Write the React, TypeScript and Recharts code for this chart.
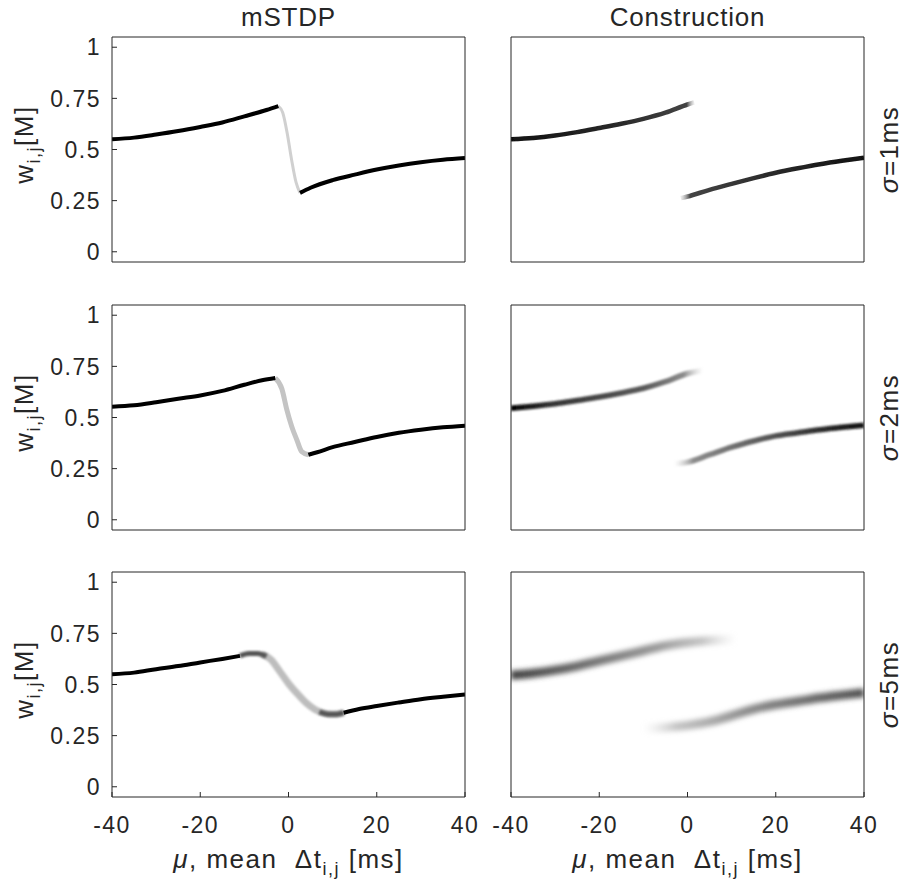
import React from 'react';
import { LineChart, Line, XAxis, YAxis } from 'recharts';

const FONT = '"Liberation Sans", Arial, Helvetica, sans-serif';
const INK = '#262626';

const xTicks = [-40, -20, 0, 20, 40];
const yTicks = [0, 0.25, 0.5, 0.75, 1];
const columnTitles = ['mSTDP', 'Construction'];
const sigmaValues = ['1', '2', '5'];

// [mean dt (ms), weight] pairs
// mSTDP, sigma = 1ms
const stdp1Rise = [[-40, 0.55], [-35, 0.558], [-30, 0.573], [-25, 0.59], [-20, 0.61], [-15, 0.632], [-10, 0.662], [-5, 0.693], [-2.3, 0.712]];
const stdp1Drop = [[-2.3, 0.712], [-1.3, 0.68], [-0.3, 0.58], [0.7, 0.45], [1.7, 0.34], [2.6, 0.288]];
const stdp1Tail = [[2.6, 0.288], [5, 0.313], [10, 0.35], [15, 0.377], [20, 0.402], [25, 0.422], [30, 0.438], [35, 0.45], [40, 0.458]];

// mSTDP, sigma = 2ms
const stdp2Rise = [[-40, 0.553], [-35, 0.56], [-30, 0.575], [-25, 0.592], [-20, 0.608], [-15, 0.63], [-10, 0.66], [-6, 0.682], [-3, 0.693]];
const stdp2Drop = [[-3, 0.693], [-1.5, 0.64], [-0.4, 0.54], [0.75, 0.455], [1.9, 0.39], [3, 0.333], [4.5, 0.318]];
const stdp2Tail = [[4.5, 0.318], [6.5, 0.33], [10, 0.355], [15, 0.38], [20, 0.405], [25, 0.425], [30, 0.44], [35, 0.452], [40, 0.46]];

// mSTDP, sigma = 5ms
const stdp5Rise = [[-40, 0.55], [-35, 0.558], [-30, 0.575], [-25, 0.59], [-20, 0.608], [-15, 0.625], [-11, 0.64]];
const stdp5Peak = [[-11, 0.64], [-9, 0.652], [-7, 0.652], [-5, 0.638]];
const stdp5Drop = [[-6, 0.648], [-4, 0.622], [-2, 0.565], [0, 0.505], [2, 0.455], [4, 0.41], [6, 0.378], [8, 0.36], [10, 0.354], [12.5, 0.362]];
const stdp5Trough = [[7, 0.366], [9, 0.355], [11, 0.355], [12.5, 0.362]];
const stdp5Tail = [[12.5, 0.362], [16, 0.38], [20, 0.395], [25, 0.412], [30, 0.428], [35, 0.44], [40, 0.451]];

// construction, upper (dt < 0) and lower (dt > 0) branches
const con1Upper = [[-40, 0.55], [-35, 0.556], [-30, 0.568], [-25, 0.585], [-20, 0.605], [-15, 0.626], [-10, 0.65], [-5, 0.68], [0, 0.72], [1.5, 0.73]];
const con1Lower = [[-1.5, 0.262], [0, 0.27], [5, 0.303], [10, 0.332], [15, 0.36], [20, 0.386], [25, 0.408], [30, 0.428], [35, 0.445], [40, 0.46]];
const con2Upper = [[-40, 0.545], [-35, 0.555], [-30, 0.567], [-25, 0.583], [-20, 0.6], [-15, 0.62], [-10, 0.643], [-5, 0.675], [0, 0.715], [3.5, 0.73]];
const con2Lower = [[-3, 0.274], [0, 0.282], [5, 0.318], [10, 0.355], [15, 0.385], [20, 0.41], [25, 0.425], [30, 0.44], [35, 0.452], [40, 0.462]];
const con5Upper = [[-40, 0.545], [-35, 0.555], [-30, 0.57], [-25, 0.59], [-20, 0.615], [-15, 0.64], [-10, 0.665], [-5, 0.69], [0, 0.705], [5, 0.715], [11, 0.72]];
const con5Lower = [[-10, 0.285], [-5, 0.29], [0, 0.3], [5, 0.318], [10, 0.348], [15, 0.38], [20, 0.402], [25, 0.418], [30, 0.435], [35, 0.448], [40, 0.46]];

type Trace = { pts: number[][]; stroke: string; width: number; filter?: string };

const panels: Trace[][][] = [
  [
    [
      { pts: stdp1Drop, stroke: '#d0d0d0', width: 3 },
      { pts: stdp1Rise, stroke: '#000', width: 4 },
      { pts: stdp1Tail, stroke: '#000', width: 4 },
    ],
    [
      { pts: con1Upper, stroke: 'url(#g1u)', width: 4.5, filter: 'url(#b1)' },
      { pts: con1Lower, stroke: 'url(#g1l)', width: 4.5, filter: 'url(#b1)' },
    ],
  ],
  [
    [
      { pts: stdp2Drop, stroke: '#c4c4c4', width: 5, filter: 'url(#b1)' },
      { pts: stdp2Rise, stroke: '#000', width: 4 },
      { pts: stdp2Tail, stroke: '#000', width: 4 },
    ],
    [
      { pts: con2Upper, stroke: 'url(#g2u)', width: 5.5, filter: 'url(#b2)' },
      { pts: con2Lower, stroke: 'url(#g2l)', width: 5.5, filter: 'url(#b2)' },
    ],
  ],
  [
    [
      { pts: stdp5Drop, stroke: '#bdbdbd', width: 7, filter: 'url(#b2)' },
      { pts: stdp5Peak, stroke: '#555', width: 5, filter: 'url(#b2)' },
      { pts: stdp5Trough, stroke: '#555', width: 5, filter: 'url(#b2)' },
      { pts: stdp5Rise, stroke: '#000', width: 4 },
      { pts: stdp5Tail, stroke: '#000', width: 4 },
    ],
    [
      { pts: con5Upper, stroke: 'url(#g5u)', width: 9, filter: 'url(#b5)' },
      { pts: con5Lower, stroke: 'url(#g5l)', width: 9, filter: 'url(#b5)' },
    ],
  ],
];

const PLOT_W = 353;
const PLOT_H = 225;
const colX = [112, 511];
const rowY = [37, 305, 572];
const AXIS_W = 80;
const RIGHT_PAD = 25;
const BOTTOM_H = 45;

const toPoints = (pairs: number[][]) => pairs.map(([x, w]) => ({ x, w }));

const tickText = { fill: INK, fontSize: 23, fontFamily: FONT, letterSpacing: 1.5 };

function Panel({ row, col }: { row: number; col: number }) {
  const showY = col === 0;
  const showX = row === 2;
  return (
    <div style={{ position: 'absolute', left: colX[col] - AXIS_W, top: rowY[row] - 5 }}>
      <LineChart
        width={AXIS_W + PLOT_W + 1 + RIGHT_PAD}
        height={PLOT_H + 5 + BOTTOM_H}
        margin={{ top: 4, right: RIGHT_PAD, bottom: 0, left: 0 }}
      >
        <XAxis
          xAxisId="b"
          dataKey="x"
          type="number"
          domain={[-40, 40]}
          ticks={xTicks}
          interval={0}
          allowDataOverflow
          height={BOTTOM_H}
          tick={showX ? tickText : false}
          tickSize={-5}
          tickMargin={25}
          stroke={INK}
        />
        <XAxis
          xAxisId="t"
          orientation="top"
          type="number"
          domain={[-40, 40]}
          ticks={xTicks}
          interval={0}
          allowDataOverflow
          height={1}
          tick={false}
          tickSize={-5}
          stroke={INK}
        />
        <YAxis
          yAxisId="l"
          type="number"
          domain={[-0.05, 1.05]}
          ticks={yTicks}
          interval={0}
          allowDataOverflow
          width={AXIS_W}
          tick={showY ? tickText : false}
          tickSize={-5}
          tickMargin={16}
          stroke={INK}
        />
        <YAxis
          yAxisId="r"
          orientation="right"
          type="number"
          domain={[-0.05, 1.05]}
          ticks={yTicks}
          interval={0}
          allowDataOverflow
          width={1}
          tick={false}
          tickSize={-5}
          stroke={INK}
        />
        {panels[row][col].map((t, i) => (
          <Line
            key={i}
            xAxisId="b"
            yAxisId="l"
            data={toPoints(t.pts)}
            dataKey="w"
            type="monotone"
            stroke={t.stroke}
            strokeWidth={t.width}
            filter={t.filter}
            dot={false}
            activeDot={false}
            isAnimationActive={false}
          />
        ))}
      </LineChart>
    </div>
  );
}

const rowCenters = rowY.map((y) => y + PLOT_H / 2);
const colCenters = colX.map((x) => x + PLOT_W / 2);

function Overlay() {
  return (
    <svg
      width={908}
      height={890}
      style={{ position: 'absolute', left: 0, top: 0, pointerEvents: 'none' }}
      fontFamily={FONT}
      fill={INK}
    >
      <defs>
        <filter id="b1" filterUnits="userSpaceOnUse" x={-100} y={-100} width={700} height={600}>
          <feGaussianBlur stdDeviation={0.6} />
        </filter>
        <filter id="b2" filterUnits="userSpaceOnUse" x={-100} y={-100} width={700} height={600}>
          <feGaussianBlur stdDeviation={1.1} />
        </filter>
        <filter id="b5" filterUnits="userSpaceOnUse" x={-100} y={-100} width={700} height={600}>
          <feGaussianBlur stdDeviation={2.6} />
        </filter>
        <linearGradient id="g1u" x1="0" y1="0" x2="1" y2="0">
          <stop offset="0" stopColor="#111" />
          <stop offset="0.6" stopColor="#2a2a2a" />
          <stop offset="0.96" stopColor="#444" />
          <stop offset="1" stopColor="#aaa" stopOpacity={0.2} />
        </linearGradient>
        <linearGradient id="g1l" x1="0" y1="0" x2="1" y2="0">
          <stop offset="0" stopColor="#aaa" stopOpacity={0.2} />
          <stop offset="0.05" stopColor="#444" />
          <stop offset="0.5" stopColor="#2a2a2a" />
          <stop offset="1" stopColor="#111" />
        </linearGradient>
        <linearGradient id="g2u" x1="0" y1="0" x2="1" y2="0">
          <stop offset="0" stopColor="#000" />
          <stop offset="0.2" stopColor="#333" />
          <stop offset="0.7" stopColor="#5a5a5a" />
          <stop offset="0.9" stopColor="#777" stopOpacity={0.85} />
          <stop offset="1" stopColor="#bbb" stopOpacity={0} />
        </linearGradient>
        <linearGradient id="g2l" x1="0" y1="0" x2="1" y2="0">
          <stop offset="0" stopColor="#bbb" stopOpacity={0} />
          <stop offset="0.1" stopColor="#777" stopOpacity={0.85} />
          <stop offset="0.5" stopColor="#555" />
          <stop offset="0.85" stopColor="#222" />
          <stop offset="1" stopColor="#111" />
        </linearGradient>
        <linearGradient id="g5u" x1="0" y1="0" x2="1" y2="0">
          <stop offset="0" stopColor="#404040" />
          <stop offset="0.3" stopColor="#6a6a6a" />
          <stop offset="0.65" stopColor="#999" />
          <stop offset="0.85" stopColor="#aaa" stopOpacity={0.7} />
          <stop offset="1" stopColor="#ccc" stopOpacity={0} />
        </linearGradient>
        <linearGradient id="g5l" x1="0" y1="0" x2="1" y2="0">
          <stop offset="0" stopColor="#ccc" stopOpacity={0} />
          <stop offset="0.15" stopColor="#aaa" stopOpacity={0.7} />
          <stop offset="0.45" stopColor="#8e8e8e" />
          <stop offset="0.8" stopColor="#666" />
          <stop offset="1" stopColor="#505050" />
        </linearGradient>
      </defs>

      {columnTitles.map((t, c) => (
        <text key={t} x={colCenters[c]} y={26} fontSize={26} textAnchor="middle" letterSpacing={0.8}>
          {t}
        </text>
      ))}

      {rowCenters.map((yc, r) => (
        <text
          key={'w' + r}
          transform={`translate(33 ${yc - 5}) rotate(-90)`}
          fontSize={26}
          textAnchor="middle"
          letterSpacing={1.5}
        >
          w
          <tspan fontSize={18} dy={7}>i,j</tspan>
          <tspan dy={-7}>[M]</tspan>
        </text>
      ))}

      {rowCenters.map((yc, r) => (
        <text
          key={'s' + r}
          transform={`translate(898 ${yc}) rotate(-90)`}
          fontSize={26}
          textAnchor="middle"
          letterSpacing={1.5}
        >
          <tspan fontStyle="italic">σ</tspan>
          {'=' + sigmaValues[r] + 'ms'}
        </text>
      ))}

      {colCenters.map((xc, c) => (
        <text key={'x' + c} x={xc} y={868} fontSize={26} textAnchor="middle" letterSpacing={1.5}>
          <tspan fontStyle="italic">μ</tspan>
          {', mean\u00a0\u00a0Δt'}
          <tspan fontSize={18} dy={7}>i,j</tspan>
          <tspan dy={-7}>{'\u00a0[ms]'}</tspan>
        </text>
      ))}
    </svg>
  );
}

export default function App() {
  return (
    <div style={{ position: 'absolute', left: 0, top: 0, width: 908, height: 890, background: '#fff' }}>
      {[0, 1, 2].map((r) =>
        [0, 1].map((c) => <Panel key={`${r}-${c}`} row={r} col={c} />)
      )}
      <Overlay />
    </div>
  );
}
